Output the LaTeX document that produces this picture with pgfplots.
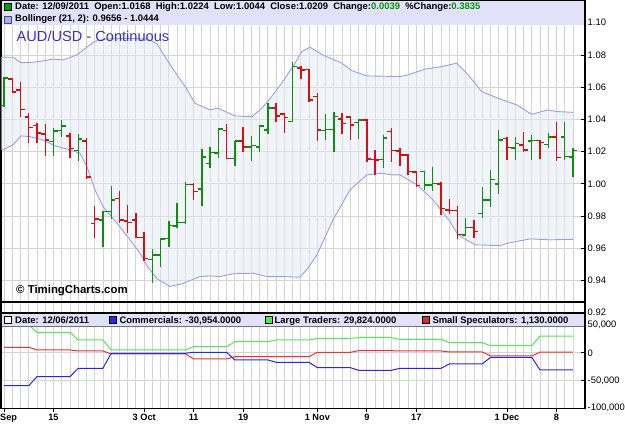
\documentclass[border=0pt]{standalone}
\usepackage{fontspec}
\setmainfont{Liberation Sans}
\usepackage{pgfplots}
\pgfplotsset{compat=1.18}
\usepackage{pgfplotstable}

\definecolor{upc}{RGB}{16,140,16}
\definecolor{dnc}{RGB}{214,16,16}
\definecolor{bandline}{RGB}{155,155,238}
\definecolor{bandfillx}{RGB}{227,235,245}
\definecolor{hdr}{RGB}{225,225,250}
\definecolor{gridc}{RGB}{212,212,212}
\definecolor{titleblue}{RGB}{51,51,204}
\definecolor{chg}{RGB}{0,150,0}
\definecolor{cotg}{RGB}{80,235,80}
\definecolor{cotr}{RGB}{238,50,50}
\definecolor{cotb}{RGB}{40,40,225}
\definecolor{sqg}{RGB}{0,160,0}
\definecolor{sqb}{RGB}{170,170,250}

\newcommand\hf{\fontsize{9.45}{11}\selectfont\bfseries}
\newcommand\tlf{\fontsize{9.4}{11}\selectfont}
\newcommand\blf{\fontsize{9.2}{11}\selectfont\bfseries}

% bars that closed higher than the previous close
\pgfplotstableread{
i O H L C
0 1.0486 1.0662 1.0480 1.0656
6 1.0262 1.0346 1.0174 1.0329
7 1.0331 1.0397 1.0290 1.0360
9 1.0207 1.0310 1.0143 1.0279
12 0.9777 0.9834 0.9611 0.9828
13 0.9828 0.9988 0.9781 0.9901
18 0.9530 0.9595 0.9388 0.9560
19 0.9560 0.9663 0.9487 0.9657
20 0.9663 0.9770 0.9611 0.9741
21 0.9739 0.9884 0.9725 0.9762
22 0.9760 1.0014 0.9752 0.9998
24 0.9969 1.0214 0.9860 1.0167
25 1.0128 1.0231 1.0097 1.0194
26 1.0191 1.0346 1.0161 1.0340
28 1.0159 1.0269 1.0114 1.0267
30 1.0228 1.0300 1.0145 1.0240
31 1.0228 1.0366 1.0197 1.0360
32 1.0335 1.0501 1.0310 1.0470
35 1.0386 1.0755 1.0383 1.0728
39 1.0331 1.0434 1.0273 1.0339
40 1.0339 1.0445 1.0197 1.0417
43 1.0381 1.0403 1.0277 1.0397
46 1.0153 1.0304 1.0099 1.0285
51 1.0076 1.0081 0.9963 0.9994
52 0.9994 1.0107 0.9958 1.0004
56 0.9684 0.9787 0.9674 0.9730
58 0.9818 0.9980 0.9787 0.9901
59 0.9901 1.0084 0.9859 1.0029
60 1.0000 1.0335 0.9938 1.0273
62 1.0222 1.0290 1.0149 1.0250
64 1.0267 1.0304 1.0149 1.0269
66 1.0246 1.0315 1.0221 1.0290
68 1.0290 1.0382 1.0146 1.0170
69 1.0168 1.0224 1.0044 1.0209
}\upbars

% bars that closed lower than the previous close
\pgfplotstableread{
i O H L C
1 1.0651 1.0656 1.0563 1.0569
2 1.0583 1.0635 1.0418 1.0463
3 1.0414 1.0439 1.0252 1.0349
4 1.0362 1.0377 1.0256 1.0315
5 1.0310 1.0372 1.0174 1.0273
8 1.0298 1.0315 1.0163 1.0221
10 1.0267 1.0283 1.0031 1.0042
11 0.9756 0.9865 0.9663 0.9783
14 0.9911 0.9957 0.9758 0.9777
15 0.9771 0.9871 0.9698 0.9762
16 0.9777 0.9822 0.9665 0.9668
17 0.9667 0.9704 0.9522 0.9536
23 0.9998 1.0004 0.9901 0.9952
27 1.0331 1.0372 1.0153 1.0159
29 1.0267 1.0355 1.0200 1.0228
33 1.0470 1.0501 1.0386 1.0422
34 1.0434 1.0439 1.0318 1.0413
36 1.0718 1.0732 1.0651 1.0707
37 1.0711 1.0713 1.0511 1.0521
38 1.0541 1.0566 1.0269 1.0335
41 1.0403 1.0442 1.0310 1.0375
42 1.0414 1.0422 1.0273 1.0366
44 1.0397 1.0400 1.0135 1.0155
45 1.0152 1.0211 1.0056 1.0149
47 1.0325 1.0344 1.0136 1.0207
48 1.0205 1.0221 1.0112 1.0180
49 1.0180 1.0186 1.0056 1.0076
50 1.0073 1.0083 0.9980 0.9989
53 1.0000 1.0014 0.9808 0.9849
54 0.9839 0.9904 0.9814 0.9836
55 0.9836 0.9860 0.9657 0.9687
57 0.9730 0.9777 0.9663 0.9704
61 1.0282 1.0290 1.0149 1.0226
63 1.0242 1.0324 1.0200 1.0211
65 1.0269 1.0273 1.0153 1.0257
67 1.0290 1.0382 1.0143 1.0162
}\dnbars

% Bollinger upper band
\pgfplotstableread{
x v
-0.364 1.0786
0 1.0786
1.09 1.0786
2.06 1.0752
3.52 1.0755
4.73 1.0763
5.94 1.0774
7.15 1.0769
8.85 1.0800
10.07 1.0850
11.04 1.0885
12.25 1.0898
14.07 1.0902
15.89 1.0902
17.46 1.0898
18.55 1.0870
19.77 1.0769
20.74 1.0695
22.07 1.0596
23.15 1.0501
24.97 1.0459
25.94 1.0470
28.0 1.0422
30.06 1.0417
31.03 1.0459
32.0 1.0511
33.82 1.0635
35.03 1.0728
36.12 1.0821
37.09 1.0848
38.67 1.0800
40.97 1.0749
42.18 1.0703
44.0 1.0670
48.0 1.0666
48.97 1.0676
51.03 1.0712
53.09 1.0728
54.91 1.0749
56.12 1.0687
57.94 1.0573
59.88 1.0532
62.18 1.0490
64.0 1.0432
65.94 1.0459
67.03 1.0449
69 1.0444
}\bandup

% Bollinger lower band
\pgfplotstableread{
x v
-0.364 1.0215
0 1.0215
1.09 1.0242
2.06 1.0298
3.15 1.0293
4.73 1.0273
6.18 1.0236
8.0 1.0211
9.21 1.0190
10.06 1.0107
11.03 0.9963
12.0 0.9859
13.70 0.9756
15.28 0.9653
16.49 0.9570
17.34 0.9491
18.55 0.9411
20.13 0.9364
21.58 0.9380
23.77 0.9425
24.97 0.9429
26.19 0.9425
27.76 0.9442
30.19 0.9446
31.89 0.9425
33.83 0.9425
35.89 0.9421
36.86 0.9477
37.95 0.9560
39.9 0.9777
41.96 0.9963
44.0 1.0056
45.83 1.0066
47.05 1.0056
48.02 1.0056
50.09 0.9994
52.03 0.9901
54.09 0.9766
55.06 0.9684
57.12 0.9622
60.15 0.9617
61.12 0.9632
63.79 0.9659
66.2 0.9653
69 0.9656
}\bandlo

% band area outline: upper band left to right, lower band right to left
\pgfplotstableread{
x v
-0.364 1.0786
0 1.0786
1.09 1.0786
2.06 1.0752
3.52 1.0755
4.73 1.0763
5.94 1.0774
7.15 1.0769
8.85 1.0800
10.07 1.0850
11.04 1.0885
12.25 1.0898
14.07 1.0902
15.89 1.0902
17.46 1.0898
18.55 1.0870
19.77 1.0769
20.74 1.0695
22.07 1.0596
23.15 1.0501
24.97 1.0459
25.94 1.0470
28.0 1.0422
30.06 1.0417
31.03 1.0459
32.0 1.0511
33.82 1.0635
35.03 1.0728
36.12 1.0821
37.09 1.0848
38.67 1.0800
40.97 1.0749
42.18 1.0703
44.0 1.0670
48.0 1.0666
48.97 1.0676
51.03 1.0712
53.09 1.0728
54.91 1.0749
56.12 1.0687
57.94 1.0573
59.88 1.0532
62.18 1.0490
64.0 1.0432
65.94 1.0459
67.03 1.0449
69 1.0444
69 0.9656
66.2 0.9653
63.79 0.9659
61.12 0.9632
60.15 0.9617
57.12 0.9622
55.06 0.9684
54.09 0.9766
52.03 0.9901
50.09 0.9994
48.02 1.0056
47.05 1.0056
45.83 1.0066
44.0 1.0056
41.96 0.9963
39.9 0.9777
37.95 0.9560
36.86 0.9477
35.89 0.9421
33.83 0.9425
31.89 0.9425
30.19 0.9446
27.76 0.9442
26.19 0.9425
24.97 0.9429
23.77 0.9425
21.58 0.9380
20.13 0.9364
18.55 0.9411
17.34 0.9491
16.49 0.9570
15.28 0.9653
13.70 0.9756
12.0 0.9859
11.03 0.9963
10.06 1.0107
9.21 1.0190
8.0 1.0211
6.18 1.0236
4.73 1.0273
3.15 1.0293
2.06 1.0298
1.09 1.0242
0 1.0215
-0.364 1.0215
}\bandpoly

\pgfplotstableread{
x G R B
0 50050 9900 -59240
3 50050 9900 -59240
4 36900 5040 -43030
8 36900 5040 -43030
9 23050 3240 -27900
12 23050 3240 -27900
13 5040 -2160 -900
22 5040 -2160 -900
23 10980 -11160 900
27 10980 -11160 900
28 19990 -7020 -12960
32 19990 -7020 -12960
33 23050 -7020 -17100
37 23050 -7020 -17100
38 26100 900 -26830
42 26100 900 -26830
43 27190 3780 -31510
47 27190 3780 -31510
48 24300 3240 -27900
53 24300 3240 -27900
54 18190 1440 -20170
58 18190 1440 -20170
59 12780 -5760 -8100
64 12780 -5760 -8100
65 29824 1130 -30954
69 29824 1130 -30954
}\cot

\begin{document}
\begin{tikzpicture}[x=1pt,y=1pt]
\path[use as bounding box] (0,0) rectangle (625,440);

\begin{axis}[
  at={(1pt,127pt)}, anchor=south west,
  scale only axis, width=584pt, height=313pt,
  xmin=-0.364, xmax=70.458, ymin=0.9199, ymax=1.1141,
  axis line style={black, line width=1.1pt},
  xtick={0,...,69}, xticklabel=\empty, xmajorgrids,
  x tick style={draw=none},
  ytick={0.94,0.96,0.98,1.00,1.02,1.04,1.06,1.08,1.10},
  yticklabels={0.94,0.96,0.98,1.00,1.02,1.04,1.06,1.08,1.10},
  scaled y ticks=false,
  ymajorgrids,
  grid style={gridc, line width=0.9pt},
  ytick pos=right, yticklabel pos=right,
  y tick style={black, line width=0.8pt},
  major tick length=4pt, tick align=inside,
  yticklabel style={font=\tlf, anchor=west, inner sep=0pt, xshift=2.5pt},
]
\addplot[fill=bandfillx, fill opacity=0.5, draw=none, forget plot] table[x=x,y=v]{\bandpoly};
\addplot[draw=bandline, line width=0.9pt, forget plot] table[x=x,y=v]{\bandup};
\addplot[draw=bandline, line width=0.9pt, forget plot] table[x=x,y=v]{\bandlo};

\addplot[upc, line width=1.4pt, forget plot, quiver={u=0, v=\thisrow{H}-\thisrow{L}}] table[x=i, y=L] {\upbars};
\addplot[upc, line width=1.4pt, forget plot, quiver={u=-0.5, v=0}] table[x=i, y=O] {\upbars};
\addplot[upc, line width=1.4pt, forget plot, quiver={u=0.5, v=0}] table[x=i, y=C] {\upbars};
\addplot[dnc, line width=1.4pt, forget plot, quiver={u=0, v=\thisrow{H}-\thisrow{L}}] table[x=i, y=L] {\dnbars};
\addplot[dnc, line width=1.4pt, forget plot, quiver={u=-0.5, v=0}] table[x=i, y=O] {\dnbars};
\addplot[dnc, line width=1.4pt, forget plot, quiver={u=0.5, v=0}] table[x=i, y=C] {\dnbars};
\end{axis}

\begin{axis}[
  at={(1pt,31.7pt)}, anchor=south west,
  scale only axis, width=584pt, height=95.3pt,
  xmin=-0.364, xmax=70.458, ymin=-100000, ymax=71660,
  axis line style={black, line width=1.1pt},
  xtick={6,17,23,29,38,44,50,61,67},
  xticklabels={15,3 Oct,11,19,1 Nov,9,17,1 Dec,8},
  extra x ticks={0}, extra x tick labels={Sep},
  extra x tick style={xticklabel style={anchor=north west, xshift=-4pt}},
  minor xtick={0,...,69}, xminorgrids=true, xmajorgrids=false,
  minor tick length=0pt,
  xtick pos=bottom,
  x tick style={black, line width=0.8pt, yshift=-4pt},
  xticklabel style={font=\blf, anchor=north, inner sep=0pt, yshift=-6pt},
  ytick={-100000,-50000,0,50000},
  yticklabels={{-100,000},{-50,000},{0},{50,000}},
  scaled y ticks=false,
  ymajorgrids,
  grid style={gridc, line width=0.9pt},
  minor grid style={gridc, line width=0.9pt},
  ytick pos=right, yticklabel pos=right,
  y tick style={black, line width=0.8pt},
  major tick length=4pt, tick align=inside,
  yticklabel style={font=\tlf, anchor=west, inner sep=0pt, xshift=2.5pt},
]
\addplot[cotg, line width=1pt] table[x=x,y=G]{\cot};
\addplot[cotr, line width=1pt] table[x=x,y=R]{\cot};
\addplot[cotb, line width=1pt] table[x=x,y=B]{\cot};
\end{axis}

% bottom label of the price scale and the rule under the copyright
\node[anchor=west, inner sep=0pt, font=\tlf] at (587.5,127.3) {0.92};
\draw[black, line width=1.1pt] (1,138) -- (585,138);

% upper header
\fill[hdr] (1.6,415.3) rectangle (584.4,439.4);
\filldraw[fill=sqg, draw=black, line width=0.6pt] (4,430) rectangle (11,436.7);
\filldraw[fill=sqb, draw=black!70, line width=0.6pt] (4,417) rectangle (11,423.7);
\node[anchor=base west, inner sep=0pt, font=\hf] at (15,430.6)
  {Date: 12/09/2011\ \ Open:1.0168\ \ High:1.0224\ \ Low:1.0044\ \ Close:1.0209\ \ Change:\textcolor{chg}{0.0039}\ \ \%Change:\textcolor{chg}{0.3835}};
\node[anchor=base west, inner sep=0pt, font=\hf] at (15,418.4)
  {Bollinger (21, 2): 0.9656 - 1.0444};
\node[anchor=base west, inner sep=0pt, font=\fontsize{14.6}{16}\selectfont, text=titleblue] at (16.5,398.3)
  {AUD/USD - Continuous};
\node[anchor=base west, inner sep=0pt, font=\fontsize{11.4}{13}\selectfont\bfseries] at (16,146.7)
  {\textcopyright\ TimingCharts.com};

% lower header
\fill[hdr] (1.6,114) rectangle (584.4,126.7);
\draw[black!55, line width=0.6pt] (1.6,114) -- (584.4,114);
\draw[black, line width=1.6pt] (1,126.9) -- (585,126.9);
\filldraw[fill=white, draw=black, line width=0.6pt] (4,116.5) rectangle (11,123.2);
\filldraw[fill=cotb, draw=black, line width=0.6pt] (109,116.5) rectangle (116,123.2);
\filldraw[fill=cotg, draw=black, line width=0.6pt] (265.7,116.5) rectangle (272.4,123.2);
\filldraw[fill=cotr!90!black, draw=black, line width=0.6pt] (422.7,116.5) rectangle (429.4,123.2);
\node[anchor=base west, inner sep=0pt, font=\hf] at (15,116.8) {Date: 12/06/2011};
\node[anchor=base west, inner sep=0pt, font=\hf] at (119.3,116.8) {Commercials: -30,954.0000};
\node[anchor=base west, inner sep=0pt, font=\hf] at (274.5,116.8) {Large Traders: 29,824.0000};
\node[anchor=base west, inner sep=0pt, font=\hf] at (432.3,116.8) {Small Speculators: 1,130.0000};
\end{tikzpicture}
\end{document}
